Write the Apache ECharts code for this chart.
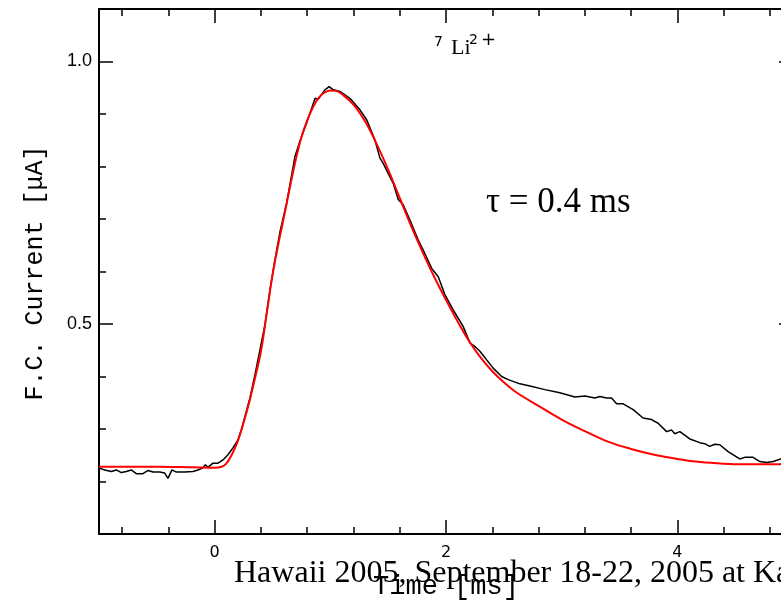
<!DOCTYPE html>
<html>
<head>
<meta charset="utf-8">
<script src="https://cdn.jsdelivr.net/npm/echarts@6/dist/echarts.min.js"></script>
<style>
html,body{margin:0;padding:0;background:#fff;}
#chart{width:781px;height:600px;}
</style>
</head>
<body>
<div id="chart"></div>
<script>
// Measured Faraday-cup current (black)
const dataTime = [-1.0,-0.95,-0.894,-0.85,-0.807,-0.764,-0.721,-0.678,-0.62,-0.576,-0.533,-0.475,-0.432,-0.404,-0.369,-0.332,-0.259,-0.188,-0.144,-0.101,-0.081,-0.058,-0.015,0.029,0.072,0.115,0.158,0.201,0.23,0.262,0.305,0.348,0.392,0.435,0.478,0.521,0.565,0.622,0.694,0.737,0.795,0.868,0.895,0.953,0.99,1.025,1.083,1.169,1.256,1.314,1.385,1.429,1.457,1.5,1.544,1.587,1.63,1.688,1.76,1.803,1.876,1.933,1.99,2.062,2.149,2.207,2.25,2.293,2.408,2.481,2.538,2.639,2.725,2.855,2.984,3.114,3.201,3.287,3.33,3.388,3.431,3.475,3.532,3.618,3.704,3.777,3.834,3.907,3.95,3.978,4.022,4.108,4.194,4.237,4.28,4.324,4.367,4.439,4.54,4.583,4.655,4.713,4.771,4.828,4.895,4.97];
const dataCurrent = [0.2255,0.222,0.219,0.222,0.217,0.219,0.222,0.215,0.215,0.221,0.218,0.218,0.216,0.206,0.222,0.218,0.218,0.219,0.222,0.226,0.232,0.227,0.235,0.235,0.241,0.251,0.264,0.279,0.298,0.324,0.359,0.403,0.451,0.499,0.565,0.622,0.676,0.730,0.819,0.848,0.883,0.930,0.928,0.946,0.952,0.946,0.943,0.930,0.908,0.889,0.851,0.816,0.806,0.787,0.768,0.737,0.727,0.698,0.660,0.641,0.606,0.590,0.556,0.527,0.495,0.464,0.457,0.448,0.416,0.400,0.394,0.386,0.382,0.375,0.369,0.361,0.363,0.359,0.362,0.359,0.359,0.348,0.348,0.337,0.321,0.318,0.311,0.295,0.298,0.291,0.295,0.281,0.274,0.272,0.267,0.271,0.270,0.257,0.243,0.246,0.246,0.238,0.236,0.238,0.243,0.245];

// Fit curve (red)
const fitTime = [-1.0,-0.5,-0.2,0.0,0.06,0.1,0.15,0.2,0.25,0.3,0.35,0.4,0.45,0.5,0.55,0.6,0.65,0.7,0.75,0.8,0.85,0.9,0.95,1.0,1.05,1.1,1.2,1.3,1.4,1.5,1.6,1.7,1.8,1.9,2.0,2.1,2.2,2.3,2.4,2.5,2.6,2.8,3.0,3.2,3.4,3.6,3.8,4.0,4.2,4.4,4.6,4.8,5.0];
const fitCurrent = [0.228,0.228,0.227,0.226,0.228,0.234,0.252,0.277,0.312,0.352,0.398,0.448,0.520,0.593,0.652,0.705,0.760,0.812,0.856,0.888,0.913,0.931,0.941,0.945,0.944,0.938,0.918,0.886,0.843,0.794,0.740,0.686,0.636,0.589,0.546,0.505,0.467,0.436,0.410,0.389,0.371,0.344,0.318,0.296,0.276,0.262,0.251,0.243,0.237,0.234,0.233,0.233,0.233];

// Axis ticks
const xMinorTicks = [-0.8,-0.4,0,0.4,0.8,1.2,1.6,2,2.4,2.8,3.2,3.6,4,4.4,4.8];
const xMajorTicks = [0,2,4];
const yMinorTicks = [0.2,0.3,0.4,0.5,0.6,0.7,0.8,0.9,1.0];
const yMajorTicks = [0.5,1.0];

const xRange = [-1, 5];
const yRange = [0.1, 1.1];

const chart = echarts.init(document.getElementById('chart'), null, {renderer: 'canvas'});
const gridBox = {left: 99, top: 9, width: 694, height: 525, outerBoundsMode: 'none', containLabel: false};

function xAx(grid, pos, ticks, len, showLine, labels) {
  return {
    type: 'value', gridIndex: grid, position: pos, min: xRange[0], max: xRange[1],
    axisLine: {show: showLine, onZero: false, lineStyle: {color: '#000', width: 2}},
    axisTick: {show: true, inside: true, length: len, customValues: ticks, lineStyle: {color: '#000', width: 1.5}},
    axisLabel: labels ? {show: true, customValues: labels, margin: 11, color: '#000', fontFamily: 'DejaVu Sans', fontSize: 16, formatter: v => String(v)} : {show: false},
    splitLine: {show: false}
  };
}
function yAx(grid, pos, ticks, len, showLine, labels) {
  return {
    type: 'value', gridIndex: grid, position: pos, min: yRange[0], max: yRange[1],
    axisLine: {show: showLine, onZero: false, lineStyle: {color: '#000', width: 2}},
    axisTick: {show: true, inside: true, length: len, customValues: ticks, lineStyle: {color: '#000', width: 1.5}},
    axisLabel: labels ? {show: true, customValues: labels, margin: 7, color: '#000', fontFamily: 'Liberation Sans', fontSize: 18, formatter: v => v.toFixed(1)} : {show: false},
    splitLine: {show: false}
  };
}

const option = {
  animation: false,
  backgroundColor: '#fff',
  grid: [Object.assign({}, gridBox), Object.assign({}, gridBox)],
  xAxis: [
    xAx(0, 'bottom', xMinorTicks, 7, true, null),
    xAx(0, 'top', xMinorTicks, 7, true, null),
    xAx(1, 'bottom', xMajorTicks, 14, false, xMajorTicks),
    xAx(1, 'top', xMajorTicks, 14, false, null)
  ],
  yAxis: [
    yAx(0, 'left', yMinorTicks, 7, true, null),
    yAx(0, 'right', yMinorTicks, 7, true, null),
    yAx(1, 'left', yMajorTicks, 14, false, yMajorTicks),
    yAx(1, 'right', yMajorTicks, 14, false, null)
  ],
  series: [
    {
      type: 'line', xAxisIndex: 0, yAxisIndex: 0, showSymbol: false,
      data: dataTime.map((t, i) => [t, dataCurrent[i]]),
      lineStyle: {color: '#000', width: 1.5}, clip: true
    },
    {
      type: 'line', xAxisIndex: 0, yAxisIndex: 0, showSymbol: false, smooth: 0.4,
      data: fitTime.map((t, i) => [t, fitCurrent[i]]),
      lineStyle: {color: '#ff0000', width: 2}, clip: true
    }
  ],
  graphic: [
    {type: 'text', x: 35, y: 273, rotation: Math.PI / 2,
     style: {text: 'F.C. Current [\u03bcA]', font: '25px "Liberation Mono"', fill: '#000', align: 'center', verticalAlign: 'middle'}},
    {type: 'text', x: 446, y: 587,
     style: {text: 'Time [ms]', font: '27px "Liberation Mono"', fill: '#000', align: 'center', verticalAlign: 'middle'}},
    {type: 'text', x: 234, y: 574,
     style: {text: 'Hawaii 2005, September 18-22, 2005 at Ka', font: '32px "Liberation Serif"', fill: '#000', align: 'left', verticalAlign: 'middle'}},
    {type: 'text', x: 486, y: 203,
     style: {text: '\u03c4 = 0.4 ms', font: '35px "Liberation Serif"', fill: '#000', align: 'left', verticalAlign: 'middle'}},
    {type: 'text', x: 434, y: 42.5,
     style: {text: '7', font: '14px "DejaVu Sans"', fill: '#000', align: 'left', verticalAlign: 'middle'}},
    {type: 'text', x: 451, y: 48.5,
     style: {text: 'Li', font: '22px "Liberation Serif"', fill: '#000', align: 'left', verticalAlign: 'middle'}},
    {type: 'text', x: 469, y: 40.5,
     style: {text: '2', font: '14px "DejaVu Sans"', fill: '#000', align: 'left', verticalAlign: 'middle'}},
    {type: 'text', x: 481, y: 40.5,
     style: {text: '+', font: '18px "DejaVu Sans"', fill: '#000', align: 'left', verticalAlign: 'middle'}}
  ]
};
chart.setOption(option);
</script>
</body>
</html>
